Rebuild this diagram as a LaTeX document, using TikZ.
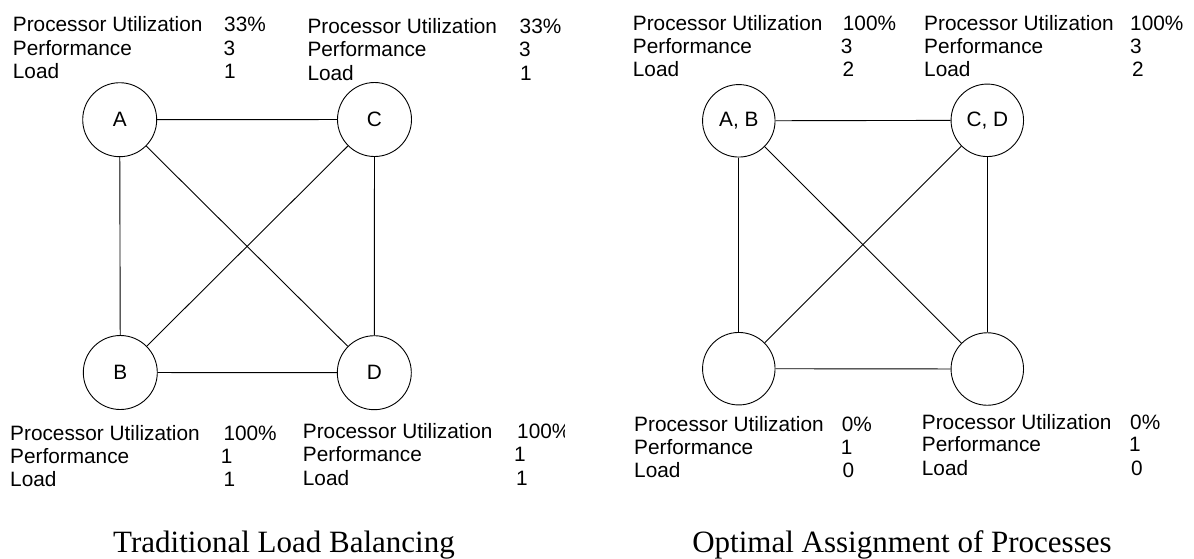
\documentclass[tikz,border=0pt]{standalone}
\usepackage{fontspec}
\setmainfont{Liberation Sans}
\newfontfamily\titlefont{Liberation Serif}

% three left-aligned row captions of a processor's figures
\newcommand\statkeys[5]{%
  \node[key] (#1-u) at (#2,#3) {Processor Utilization};
  \node[key] (#1-p) at (#2,#4) {Performance};
  \node[key] (#1-l) at (#2,#5) {Load};}

\tikzset{
  txt/.style={inner sep=0pt, font=\fontsize{20.8}{24}\selectfont},
  key/.style={txt, anchor=base west},
  pct/.style={txt, anchor=base west},
  num/.style={txt, anchor=base},
  proc/.style={circle, draw, line width=0.9pt, inner sep=0pt, txt},
  link/.style={line width=0.9pt},
  caption/.style={anchor=base, inner sep=0pt, font=\titlefont\fontsize{31}{36}\selectfont}
}

\begin{document}
\begin{tikzpicture}[x=1pt, y=-1pt]
\useasboundingbox (0,0) rectangle (1194,558);

% ---------------- traditional load balancing ----------------
\node[proc, minimum size=74pt] (A) at (119.7,119.7) {A};
\node[proc, minimum size=74pt] (C) at (374.5,119.5) {C};
\node[proc, minimum size=74pt] (B) at (120.3,372.5) {B};
\node[proc, minimum size=74pt] (D) at (374.3,372.7) {D};
\draw[link] (A) -- (C);
\draw[link] (A) -- (B);
\draw[link] (C) -- (D);
\draw[link] (B) -- (D);
\draw[link] (A) -- (D);
\draw[link] (C) -- (B);

\statkeys{lA}{12.7}{31.5}{55}{78}
\node[pct] (lA-uv) at (224,31.5) {33\%};
\node[num] (lA-pv) at (229.3,55) {3};
\node[num] (lA-lv) at (230,78) {1};

\statkeys{lC}{307.3}{33.3}{56.7}{80}
\node[pct] (lC-uv) at (519.5,33.3) {33\%};
\node[num] (lC-pv) at (525,56.7) {3};
\node[num] (lC-lv) at (526,80) {1};

\statkeys{lB}{10}{440}{463.3}{486.7}
\node[pct] (lB-uv) at (223.3,440) {100\%};
\node[num] (lB-pv) at (226.7,463.3) {1};
\node[num] (lB-lv) at (229.3,486.7) {1};

\statkeys{lD}{302.7}{438.3}{461.7}{485}
\begin{scope}
  \clip (500,410) rectangle (564.5,445);
  \node[pct] (lD-uv) at (517,438.3) {100\%};
\end{scope}
\node[num] (lD-pv) at (520,461.7) {1};
\node[num] (lD-lv) at (522,485) {1};

\node[caption] (trad) at (284,552) {Traditional Load Balancing};

% ---------------- optimal assignment ----------------
\node[proc, minimum size=72.5pt] (AB) at (738.8,120.8) {A, B};
\node[proc, minimum size=72.5pt] (CD) at (987.3,120.3) {C, D};
\node[proc, minimum size=72.5pt] (E1) at (738.8,368.7) {};
\node[proc, minimum size=72.5pt] (E2) at (987.3,369) {};
\draw[link] (AB) -- (CD);
\draw[link] (AB) -- (E1);
\draw[link] (CD) -- (E2);
\draw[link] (E1) -- (E2);
\draw[link] (AB) -- (E2);
\draw[link] (CD) -- (E1);

\statkeys{rA}{632.7}{30.7}{53.3}{76}
\node[pct] (rA-uv) at (842.7,30.7) {100\%};
\node[num] (rA-pv) at (846.7,53.3) {3};
\node[num] (rA-lv) at (848.3,76) {2};

\statkeys{rC}{924}{30.7}{53.3}{76}
\node[pct] (rC-uv) at (1130,30.7) {100\%};
\node[num] (rC-pv) at (1136,53.3) {3};
\node[num] (rC-lv) at (1138,76) {2};

\statkeys{rE}{634}{431.7}{454}{477.3}
\node[pct] (rE-uv) at (841.7,431.7) {0\%};
\node[num] (rE-pv) at (846.7,454) {1};
\node[num] (rE-lv) at (848.3,477.3) {0};

\statkeys{rF}{921.7}{429.3}{451.7}{475}
\node[pct] (rF-uv) at (1130,429.3) {0\%};
\node[num] (rF-pv) at (1135,451.7) {1};
\node[num] (rF-lv) at (1137,475) {0};

\node[caption] (opt) at (902,552) {Optimal Assignment of Processes};
\end{tikzpicture}
\end{document}
